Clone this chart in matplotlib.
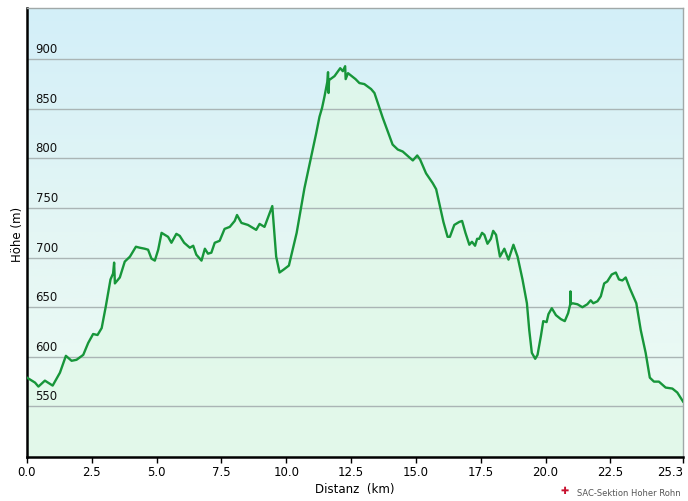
import numpy as np
import matplotlib
matplotlib.use("Agg")
import matplotlib.pyplot as plt
from matplotlib.colors import LinearSegmentedColormap
from matplotlib.transforms import blended_transform_factory

# distance (km) and elevation (m) read from the profile
dist = [0.0, 0.31, 0.44, 0.69, 0.99, 1.27, 1.50, 1.72, 1.91, 2.17, 2.36, 2.55, 2.72, 2.88,
        3.04, 3.22, 3.32, 3.36, 3.39, 3.58, 3.77, 3.97, 4.20, 4.35, 4.54, 4.67, 4.80, 4.93,
        5.06, 5.19, 5.44, 5.57, 5.76, 5.89, 6.06, 6.28, 6.41, 6.53, 6.73, 6.86, 6.98, 7.11,
        7.24, 7.43, 7.62, 7.82, 8.01, 8.10, 8.27, 8.52, 8.84, 8.97, 9.16, 9.29, 9.46, 9.61,
        9.74, 9.90, 10.10, 10.40, 10.70, 10.96, 11.15, 11.28, 11.38, 11.47, 11.58, 11.61,
        11.63, 11.65, 11.86, 12.08, 12.18, 12.27, 12.29, 12.38, 12.67, 12.82, 13.01, 13.27,
        13.40, 13.72, 14.10, 14.30, 14.49, 14.88, 15.05, 15.16, 15.39, 15.65, 15.78, 15.90,
        16.06, 16.22, 16.31, 16.48, 16.67, 16.78, 16.91, 17.06, 17.16, 17.28, 17.36, 17.44,
        17.55, 17.64, 17.76, 17.89, 17.98, 18.09, 18.24, 18.41, 18.57, 18.76, 18.92, 19.11,
        19.28, 19.37, 19.47, 19.60, 19.69, 19.82, 19.91, 20.04, 20.11, 20.24, 20.40, 20.59,
        20.74, 20.87, 20.95, 20.96, 20.97, 21.04, 21.23, 21.42, 21.61, 21.74, 21.84, 22.00,
        22.13, 22.26, 22.38, 22.55, 22.71, 22.83, 22.96, 23.09, 23.25, 23.35, 23.50, 23.67,
        23.86, 24.02, 24.18, 24.37, 24.63, 24.89, 25.08, 25.30]
elev = [579, 574, 570, 576, 571, 584, 601, 596, 597, 602, 614, 623, 622, 629,
        651, 678, 684, 695, 674, 680, 696, 701, 711, 710, 709, 708, 699, 697,
        708, 725, 721, 715, 724, 722, 715, 710, 712, 703, 697, 709, 704, 705,
        715, 717, 729, 731, 737, 743, 735, 733, 728, 734, 731, 740, 752, 701,
        685, 688, 692, 725, 770, 802, 825, 842, 851, 862, 877, 887,
        866, 879, 883, 891, 888, 893, 880, 886, 880, 876, 875, 870,
        866, 841, 814, 809, 807, 798, 803, 799, 785, 775, 769, 755,
        736, 721, 721, 733, 736, 737, 725, 713, 716, 712, 719, 719,
        725, 723, 714, 719, 727, 723, 701, 709, 698, 713, 701, 678,
        654, 627, 604, 598, 602, 621, 636, 635, 643, 649, 642, 638,
        636, 644, 653, 666, 653, 654, 653, 650, 653, 657, 654, 656,
        661, 674, 676, 683, 685, 678, 677, 680, 669, 663, 654, 627,
        604, 579, 575, 575, 569, 568, 564, 555]

xticks = [0.0, 2.5, 5.0, 7.5, 10.0, 12.5, 15.0, 17.5, 20.0, 22.5, 25.3]
yticks = [550, 600, 650, 700, 750, 800, 850, 900]

fig = plt.figure(figsize=(6.88, 5.01), dpi=100)
ax = fig.add_axes([27/688, 44.5/501, 656/688, 448.5/501])
ymin, ymax = 499.5, 951.7
ax.set_xlim(0, 25.3)
ax.set_ylim(ymin, ymax)

# background gradient: light blue at top to pale mint at bottom
bg = LinearSegmentedColormap.from_list("bg", ["#eefcf4", "#e4f6f4", "#d3eff9"])
grad = np.linspace(0, 1, 256).reshape(-1, 1)
ax.imshow(grad, cmap=bg, origin="lower", aspect="auto",
          extent=[0, 25.3, ymin, ymax], zorder=0)

ax.fill_between(dist, elev, ymin, color="#e0f8e8", alpha=0.8, zorder=1, lw=0)

for v in yticks:
    ax.axhline(v, color="#aab5b5", lw=1.0, zorder=2)

ax.plot(dist, elev, color="#17963a", lw=1.7, zorder=3)

# y labels sit inside the plot, just above each gridline
tr = blended_transform_factory(ax.transAxes, ax.transData)
for v in yticks:
    ax.text(0.013, v + 3, str(v), transform=tr, fontsize=8.5, ha="left", va="bottom",
            color="#111111", zorder=4)
ax.set_yticks([])

ax.set_xticks(xticks)
ax.set_xticklabels([f"{t:.1f}" for t in xticks], fontsize=8.5)
ax.get_xticklabels()[-1].set_horizontalalignment("right")
ax.tick_params(axis="x", direction="out", length=4, width=1, pad=3, color="black")

for s in ("left", "bottom"):
    ax.spines[s].set_color("black")
    ax.spines[s].set_linewidth(1.8)
for s in ("top", "right"):
    ax.spines[s].set_color("#a0a8a8")
    ax.spines[s].set_linewidth(1.0)

ax.set_xlabel("Distanz  (km)", fontsize=8.5, labelpad=3)
fig.text(17/688, 1 - 234/501, "Höhe (m)", rotation=90, fontsize=8.5,
         ha="center", va="center")

fig.text(577/688, 1 - 493/501, "SAC-Sektion Hoher Rohn", fontsize=6,
         color="#555555", ha="left", va="center")
fig.text(565/688, 1 - 491/501, "✚", fontsize=7, color="#c8102e",
         ha="center", va="center")

fig.savefig("out.png", dpi=100)
